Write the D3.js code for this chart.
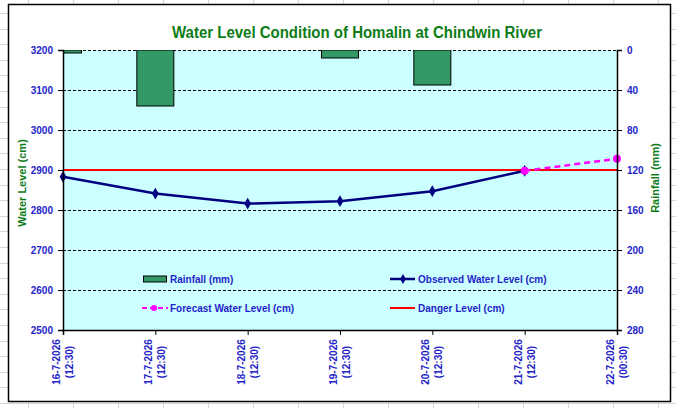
<!DOCTYPE html>
<html>
<head>
<meta charset="utf-8">
<script src="https://cdn.jsdelivr.net/npm/d3@7"></script>
<style>
  body { margin: 0; background: #ffffff; }
  svg { display: block; font-family: 'Liberation Sans', Arial, sans-serif; }
</style>
</head>
<body>
<div id="chart"></div>
<script>
const dateLabels = ['16-7-2026', '17-7-2026', '18-7-2026', '19-7-2026', '20-7-2026', '21-7-2026', '22-7-2026'];
const timeLabels = ['(12:30)', '(12:30)', '(12:30)', '(12:30)', '(12:30)', '(12:30)', '(00:30)'];
const rainfall = [3, 56, 0, 8, 35, 0, 0];
const observed = [2883, 2841, 2816, 2822, 2847, 2898, null];
const forecast = [null, null, null, null, null, 2898, 2928];
const dangerLevel = 2900;
const levelTicks = [2500, 2600, 2700, 2800, 2900, 3000, 3100, 3200];
const rainTicks = [0, 40, 80, 120, 160, 200, 240, 280];

const width = 676;
const height = 408;
const plot = { left: 63, right: 617, top: 50, bottom: 330 };

const blue = '#2424c8';
const green = '#0d7d17';

const svg = d3.select('#chart')
    .append('svg')
    .attr('width', width)
    .attr('height', height)

// spreadsheet grid behind the chart
const sheet = svg.append('g').attr('stroke', '#d6d6d6').attr('stroke-width', 1)
sheet.selectAll('line.col')
    .data(d3.range(28, width, 45))
    .enter()
    .append('line')
    .attr('x1', (d) => d + 0.5).attr('x2', (d) => d + 0.5)
    .attr('y1', 0).attr('y2', height)
sheet.selectAll('line.row')
    .data(d3.range(13, height, 15.6))
    .enter()
    .append('line')
    .attr('y1', (d) => Math.round(d) + 0.5).attr('y2', (d) => Math.round(d) + 0.5)
    .attr('x1', 0).attr('x2', width)

// chart frame
svg.append('rect')
    .attr('x', 8.5).attr('y', 4.5)
    .attr('width', 662).attr('height', 397)
    .attr('fill', '#ffffff')
    .attr('stroke', '#000000')
    .attr('stroke-width', 1.5)

const x = d3.scalePoint()
    .domain(d3.range(dateLabels.length))
    .range([plot.left, plot.right])

const yLevel = d3.scaleLinear().domain([2500, 3200]).range([plot.bottom, plot.top])
const yRain = d3.scaleLinear().domain([0, 280]).range([plot.top, plot.bottom])

svg.append('rect')
    .attr('x', plot.left).attr('y', plot.top)
    .attr('width', plot.right - plot.left).attr('height', plot.bottom - plot.top)
    .attr('fill', '#ccffff')

svg.append('clipPath').attr('id', 'plot-clip')
    .append('rect')
    .attr('x', plot.left).attr('y', plot.top)
    .attr('width', plot.right - plot.left).attr('height', plot.bottom - plot.top)

// gridlines
svg.append('g')
    .selectAll('line')
    .data(levelTicks.filter((d) => d > 2500))
    .enter()
    .append('line')
    .attr('x1', plot.left).attr('x2', plot.right)
    .attr('y1', (d) => Math.round(yLevel(d)) + 0.5)
    .attr('y2', (d) => Math.round(yLevel(d)) + 0.5)
    .attr('stroke', '#000000')
    .attr('stroke-dasharray', '3,2')

// rainfall bars
const barWidth = 37
svg.append('g')
    .attr('clip-path', 'url(#plot-clip)')
    .selectAll('rect')
    .data(rainfall.map((v, i) => ({ i, v })).filter((d) => d.v > 0))
    .enter()
    .append('rect')
    .attr('x', (d) => x(d.i) - barWidth / 2)
    .attr('y', yRain(0))
    .attr('width', barWidth)
    .attr('height', (d) => yRain(d.v) - yRain(0))
    .attr('fill', '#339966')
    .attr('stroke', '#000000')
    .attr('stroke-width', 1)

// danger level
svg.append('line')
    .attr('x1', plot.left).attr('x2', plot.right)
    .attr('y1', yLevel(dangerLevel)).attr('y2', yLevel(dangerLevel))
    .attr('stroke', '#ff0000')
    .attr('stroke-width', 2)

// observed line
const obsData = observed.map((v, i) => ({ i, v })).filter((d) => d.v !== null)
svg.append('path')
    .datum(obsData)
    .attr('fill', 'none')
    .attr('stroke', '#000080')
    .attr('stroke-width', 2.5)
    .attr('d', d3.line().x((d) => x(d.i)).y((d) => yLevel(d.v)))

svg.append('g')
    .selectAll('path')
    .data(obsData)
    .enter()
    .append('path')
    .attr('transform', (d) => 'translate(' + x(d.i) + ',' + yLevel(d.v) + ')')
    .attr('d', d3.symbol().type(d3.symbolDiamond).size(40))
    .attr('fill', '#000080')

// forecast line
const fcData = forecast.map((v, i) => ({ i, v })).filter((d) => d.v !== null)
svg.append('path')
    .datum(fcData)
    .attr('fill', 'none')
    .attr('stroke', '#ff00ff')
    .attr('stroke-width', 2.5)
    .attr('stroke-dasharray', '6,4')
    .attr('d', d3.line().x((d) => x(d.i)).y((d) => yLevel(d.v)))

svg.append('g')
    .selectAll('circle')
    .data(fcData)
    .enter()
    .append('circle')
    .attr('cx', (d) => x(d.i))
    .attr('cy', (d) => yLevel(d.v))
    .attr('r', 4)
    .attr('fill', '#ff00ff')

// axes
const leftAxis = svg.append('g')
    .attr('transform', 'translate(' + plot.left + ',0)')
    .call(d3.axisLeft(yLevel).tickValues(levelTicks).tickSize(5).tickPadding(5).tickFormat(d3.format('d')))

const rightAxis = svg.append('g')
    .attr('transform', 'translate(' + plot.right + ',0)')
    .call(d3.axisRight(yRain).tickValues(rainTicks).tickSize(5).tickPadding(5).tickFormat(d3.format('d')))

const bottomAxis = svg.append('g')
    .attr('transform', 'translate(0,' + plot.bottom + ')')
    .call(d3.axisBottom(x).tickSize(5).tickFormat(''))

;[leftAxis, rightAxis, bottomAxis].forEach((a) => {
    a.select('.domain').attr('stroke', '#000000').attr('stroke-width', 1.5)
    a.selectAll('.tick line').attr('stroke', '#000000')
    a.selectAll('text')
        .attr('fill', blue)
        .style('font-size', '10px')
        .style('font-weight', 'bold')
        .style('font-family', "'Liberation Sans', Arial, sans-serif")
})

// x tick labels, rotated, two lines
const xLabel = svg.append('g')
    .selectAll('g')
    .data(d3.range(dateLabels.length))
    .enter()
    .append('g')
    .attr('transform', (i) => 'translate(' + x(i) + ',362) rotate(-90)')

xLabel.append('text')
    .attr('text-anchor', 'middle')
    .attr('y', -3)
    .attr('fill', blue)
    .style('font-size', '10px')
    .style('font-weight', 'bold')
    .text((i) => dateLabels[i])

xLabel.append('text')
    .attr('text-anchor', 'middle')
    .attr('y', 10)
    .attr('fill', blue)
    .style('font-size', '10px')
    .style('font-weight', 'bold')
    .text((i) => timeLabels[i])

// title
svg.append('text')
    .attr('x', 357)
    .attr('y', 38)
    .attr('text-anchor', 'middle')
    .attr('fill', green)
    .attr('textLength', 370)
    .attr('lengthAdjust', 'spacingAndGlyphs')
    .style('font-size', '16px')
    .style('font-weight', 'bold')
    .text('Water Level Condition of Homalin at Chindwin River')

// axis titles
svg.append('text')
    .attr('transform', 'translate(26,183) rotate(-90)')
    .attr('text-anchor', 'middle')
    .attr('fill', green)
    .style('font-size', '11px')
    .style('font-weight', 'bold')
    .text('Water Level (cm)')

svg.append('text')
    .attr('transform', 'translate(659,178) rotate(-90)')
    .attr('text-anchor', 'middle')
    .attr('fill', green)
    .style('font-size', '11px')
    .style('font-weight', 'bold')
    .text('Rainfall (mm)')

// legend
const legend = svg.append('g')
    .style('font-size', '10px')
    .style('font-weight', 'bold')

const rainItem = legend.append('g').attr('transform', 'translate(143,279)')
rainItem.append('rect')
    .attr('x', 0.5).attr('y', -3)
    .attr('width', 23).attr('height', 6)
    .attr('fill', '#339966').attr('stroke', '#000000')
rainItem.append('text').attr('x', 27).attr('y', 4).attr('fill', blue).text('Rainfall (mm)')

const fcItem = legend.append('g').attr('transform', 'translate(142,308)')
fcItem.append('line')
    .attr('x1', 0).attr('x2', 26)
    .attr('stroke', '#ff00ff').attr('stroke-width', 2).attr('stroke-dasharray', '5,3')
fcItem.append('circle').attr('cx', 12).attr('r', 3).attr('fill', '#ff00ff')
fcItem.append('text').attr('x', 28).attr('y', 4).attr('fill', blue).text('Forecast Water Level (cm)')

const obsItem = legend.append('g').attr('transform', 'translate(390,279)')
obsItem.append('line')
    .attr('x1', 0).attr('x2', 25)
    .attr('stroke', '#000080').attr('stroke-width', 2.5)
obsItem.append('path')
    .attr('transform', 'translate(13,0)')
    .attr('d', d3.symbol().type(d3.symbolDiamond).size(30))
    .attr('fill', '#000080')
obsItem.append('text').attr('x', 28).attr('y', 4).attr('fill', blue).text('Observed Water Level (cm)')

const dangerItem = legend.append('g').attr('transform', 'translate(390,308)')
dangerItem.append('line')
    .attr('x1', 0).attr('x2', 25)
    .attr('stroke', '#ff0000').attr('stroke-width', 2)
dangerItem.append('text').attr('x', 28).attr('y', 4).attr('fill', blue).text('Danger Level (cm)')
</script>
</body>
</html>
